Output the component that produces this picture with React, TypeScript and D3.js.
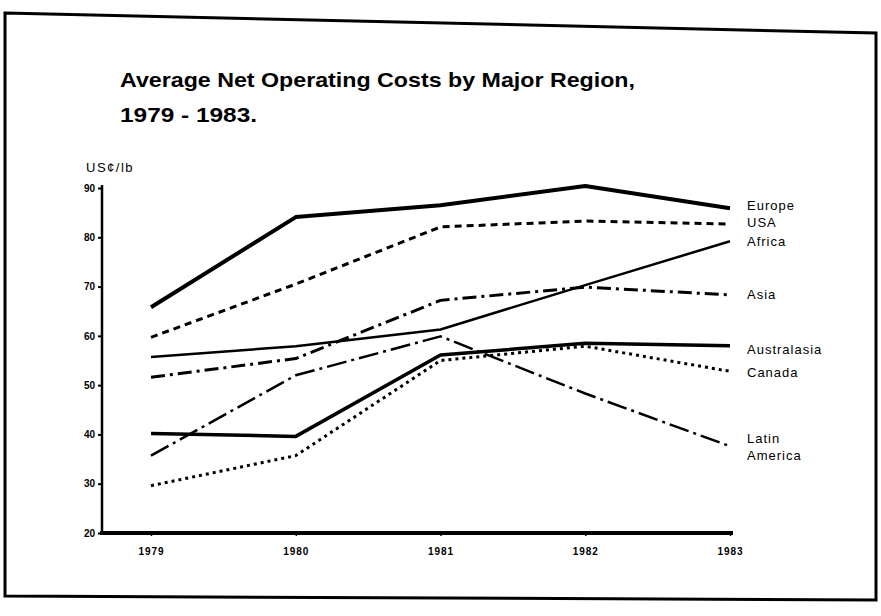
import { useEffect, useRef } from "react";
import { scalePoint, scaleLinear, line, select, axisLeft, axisBottom } from "d3";

const W = 881;
const H = 616;

const years = ["1979", "1980", "1981", "1982", "1983"];
const yTicks = [20, 30, 40, 50, 60, 70, 80, 90];

// US cents per lb
const europe = [65.8, 84.1, 86.5, 90.4, 85.9];
const usa = [59.7, 70.5, 82.1, 83.3, 82.7];
const africa = [55.7, 57.9, 61.3, 70.3, 79.2];
const asia = [51.6, 55.4, 67.2, 69.9, 68.3];
const australasia = [40.2, 39.6, 56.1, 58.5, 58.0];
const canada = [29.6, 35.7, 55.0, 57.9, 52.8];
const latinAmerica = [35.7, 52.0, 59.9, 48.3, 37.6];

const series = [
  { name: ["Europe"], values: europe, sw: 4, dash: null, dy: 2 },
  { name: ["USA"], values: usa, sw: 3, dash: "7 5", dy: 3 },
  { name: ["Africa"], values: africa, sw: 2.5, dash: null, dy: 5 },
  { name: ["Asia"], values: asia, sw: 3, dash: "14 5 3 5", dy: 4 },
  { name: ["Australasia"], values: australasia, sw: 3.5, dash: null, dy: 8 },
  { name: ["Canada"], values: canada, sw: 3, dash: "3 4", dy: 6 },
  { name: ["Latin", "America"], values: latinAmerica, sw: 2.5, dash: "20 5 3 5", dy: -3 },
];

const margin = { top: 188, right: 151, bottom: 83, left: 151 };
const font = "'Liberation Sans', Arial, sans-serif";

export default function App() {
  const xAxisRef = useRef<SVGGElement>(null);
  const yAxisRef = useRef<SVGGElement>(null);

  const x = scalePoint<string>().domain(years).range([margin.left, W - margin.right]);
  const y = scaleLinear().domain([20, 90]).range([H - margin.bottom, margin.top]);
  const axisX = 102;
  const lastX = x(years[years.length - 1]) as number;

  const path = line<number>()
    .x((_, i) => x(years[i]) as number)
    .y((d) => y(d));

  useEffect(() => {
    const ya = select(yAxisRef.current);
    ya.selectAll("*").remove();
    ya.call(axisLeft(y).tickValues(yTicks).tickSize(4).tickPadding(3));
    ya.select(".domain").attr("stroke-width", 2.5).attr("d", `M0,${y(90) - 3}V${y(20)}`);
    ya.selectAll(".tick line").attr("stroke-width", 2);
    ya.selectAll(".tick text")
      .attr("font-family", font)
      .attr("font-size", 10)
      .attr("font-weight", "bold");

    const xa = select(xAxisRef.current);
    xa.selectAll("*").remove();
    xa.call(axisBottom(x).tickSize(3).tickPadding(12));
    xa.select(".domain").attr("stroke-width", 4).attr("d", `M${axisX - 2},0H${lastX + 3}`);
    xa.selectAll(".tick line").attr("stroke-width", 1.5);
    xa.selectAll(".tick text")
      .attr("font-family", font)
      .attr("font-size", 10)
      .attr("font-weight", "bold")
      .attr("letter-spacing", 1);
  }, []);

  return (
    <svg
      width={W}
      height={H}
      style={{ position: "absolute", left: 0, top: 0, background: "#fff" }}
    >
      <rect width={W} height={H} fill="#fff" />
      <path d="M5,13L876,33L876,600L5,596Z" fill="none" stroke="#000" strokeWidth={3} />

      <text x={120} y={87} fontFamily={font} fontWeight="bold" fontSize={21} textLength={515} lengthAdjust="spacingAndGlyphs">
        Average Net Operating Costs by Major Region,
      </text>
      <text x={120} y={122} fontFamily={font} fontWeight="bold" fontSize={21} textLength={137} lengthAdjust="spacingAndGlyphs">
        1979 - 1983.
      </text>

      <text x={86} y={172} fontFamily={font} fontSize={13} letterSpacing={1.5}>
        US¢/lb
      </text>

      <g ref={yAxisRef} transform={`translate(${axisX},0)`} />
      <g ref={xAxisRef} transform={`translate(0,${y(20)})`} />

      {series.map((s) => (
        <path
          key={s.name.join(" ")}
          d={path(s.values) ?? ""}
          fill="none"
          stroke="#000"
          strokeWidth={s.sw}
          strokeDasharray={s.dash ?? undefined}
          strokeLinejoin="round"
        />
      ))}

      {series.map((s) => {
        const last = s.values[s.values.length - 1];
        const ly = y(last) + s.dy;
        return (
          <text
            key={"l" + s.name.join(" ")}
            x={lastX + 17}
            y={ly}
            fontFamily={font}
            fontSize={13}
            letterSpacing={1}
          >
            {s.name.map((n, i) => (
              <tspan key={n} x={lastX + 17} dy={i === 0 ? 0 : 17}>
                {n}
              </tspan>
            ))}
          </text>
        );
      })}
    </svg>
  );
}
